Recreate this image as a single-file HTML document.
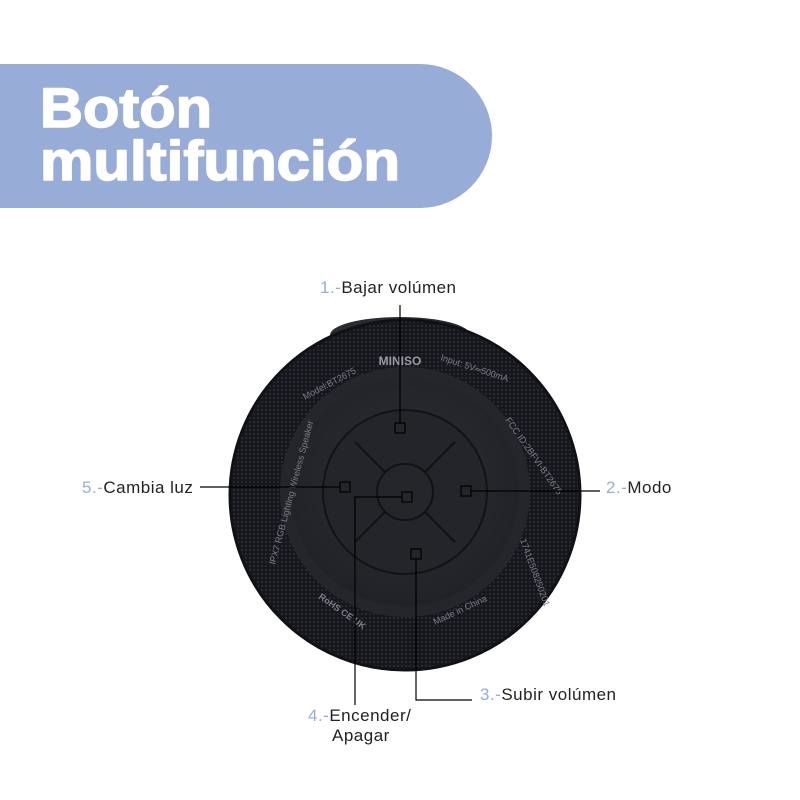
<!DOCTYPE html>
<html><head><meta charset="utf-8"><style>
body{margin:0;background:#fff;width:800px;height:800px;overflow:hidden}
svg{display:block}
text{font-family:"Liberation Sans",sans-serif}
</style></head><body>
<svg width="800" height="800" viewBox="0 0 800 800">
<defs>
<pattern id="mesh" width="4" height="4" patternUnits="userSpaceOnUse">
<rect width="4" height="4" fill="#16171d"/><circle cx="2" cy="2" r="1" fill="#2e3039"/>
</pattern>
<radialGradient id="inner" cx="50%" cy="45%" r="55%">
<stop offset="0" stop-color="#2e2f34"/><stop offset="1" stop-color="#212226"/>
</radialGradient>
</defs>
<path d="M0 64 H420 A72 72 0 0 1 420 208 H0 Z" fill="#98acd8"/>
<g fill="#fff" stroke="#fff" stroke-width="1.6" stroke-linejoin="round">
<text x="40" y="127" font-size="56" font-weight="bold" textLength="172" lengthAdjust="spacingAndGlyphs">Botón</text>
<text x="40" y="180" font-size="56" font-weight="bold" textLength="360" lengthAdjust="spacingAndGlyphs">multifunción</text>
</g>

<!-- speaker -->
<ellipse cx="400" cy="335" rx="70" ry="18" fill="#2a2b33"/>
<circle cx="405" cy="495" r="175" fill="url(#mesh)"/>
<circle cx="405" cy="495" r="175" fill="none" stroke="#101115" stroke-width="3"/>
<circle cx="405" cy="492" r="125" fill="#25262b"/>
<circle cx="405" cy="492" r="114" fill="url(#inner)"/>
<circle cx="405" cy="492" r="82" fill="#242529" stroke="#131316" stroke-width="2"/>
<circle cx="405" cy="492" r="28" fill="#25262a" stroke="#121215" stroke-width="2"/>
<g stroke="#121215" stroke-width="2">
<line x1="385" y1="472" x2="355" y2="442"/><line x1="425" y1="472" x2="455" y2="442"/>
<line x1="385" y1="512" x2="355" y2="542"/><line x1="425" y1="512" x2="455" y2="542"/>
</g>
<text x="400" y="365" font-size="12" font-weight="bold" fill="#9a9ba2" text-anchor="middle">MINISO</text>
<g font-size="9" fill="#7d7e86">
<text transform="translate(305,400) rotate(-28)">Model:BT2675</text>
<text transform="translate(440,360) rotate(18)">Input: 5V═500mA</text>
<text transform="translate(505,420) rotate(55)">FCC ID:2BFVI-BT2675</text>
<text transform="translate(275,565) rotate(-75)">IPX7 RGB Lighting Wireless Speaker</text>
<text transform="translate(435,625) rotate(-25)">Made in China</text>
<text transform="translate(520,540) rotate(70)">1741E508250201</text>
<text transform="translate(318,598) rotate(35)" font-weight="bold">RoHS  CE UK</text>
</g>

<!-- connectors -->
<g stroke="#000" stroke-width="1.2" fill="none">
<line x1="400" y1="305" x2="400" y2="423"/>
<rect x="395" y="423" width="10" height="10"/>
<line x1="200" y1="487" x2="340" y2="487"/>
<rect x="340" y="482" width="10" height="10"/>
<rect x="461" y="486" width="10" height="10"/>
<line x1="471" y1="491" x2="600" y2="491"/>
<rect x="402" y="492" width="10" height="10"/>
<polyline points="402,497 355,497 355,705"/>
<rect x="411" y="549" width="10" height="10"/>
<polyline points="416,559 416,700 472,700"/>
</g>

<g font-size="17" fill="#222" letter-spacing="0.5">
<text x="320" y="293"><tspan fill="#98acd8">1.-</tspan>Bajar volúmen</text>
<text x="82" y="493"><tspan fill="#98acd8">5.-</tspan>Cambia luz</text>
<text x="606" y="493"><tspan fill="#98acd8">2.-</tspan>Modo</text>
<text x="480" y="700"><tspan fill="#98acd8">3.-</tspan>Subir volúmen</text>
<text x="308" y="721"><tspan fill="#98acd8">4.-</tspan>Encender/</text>
<text x="332" y="741">Apagar</text>
</g>
</svg>
</body></html>
